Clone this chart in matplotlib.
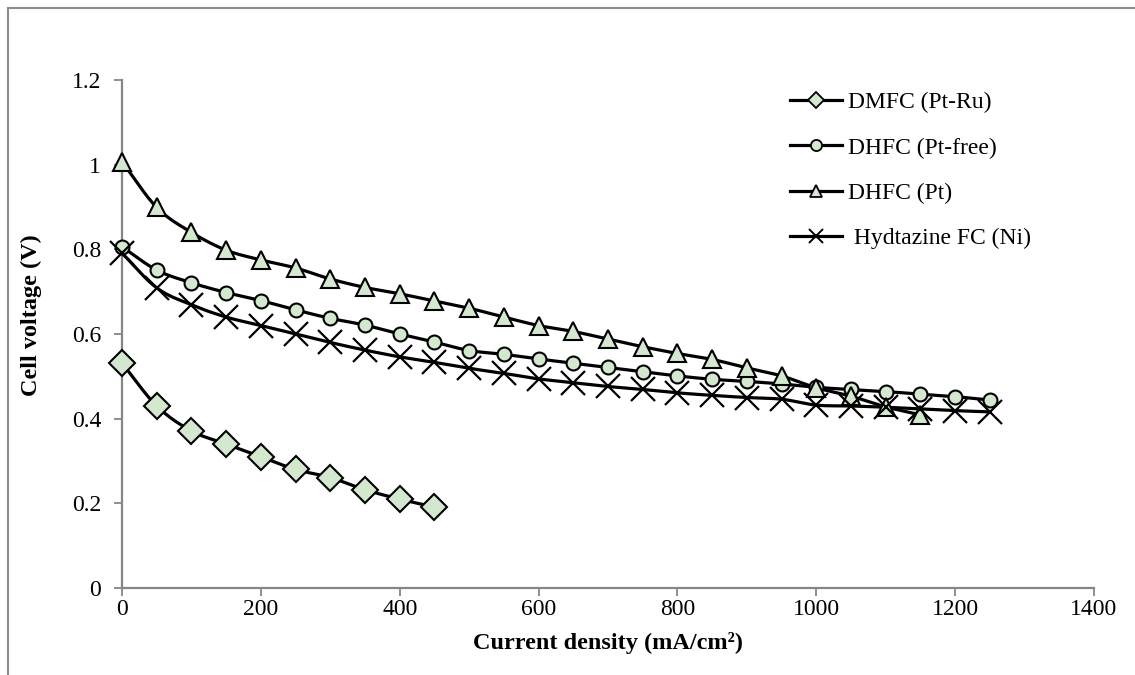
import matplotlib
matplotlib.use("Agg")
import matplotlib.pyplot as plt
from matplotlib.lines import Line2D
import numpy as np

plt.rcParams['font.family'] = ['Liberation Serif', 'DejaVu Serif']

# data
x_dmfc = [0, 50, 100, 150, 200, 250, 300, 350, 400, 450]
v_dmfc = [0.531, 0.430, 0.371, 0.340, 0.310, 0.280, 0.261, 0.232, 0.210, 0.191]

x_free = [0, 50, 100, 150, 200, 250, 300, 350, 400, 450, 500, 550, 600,
          650, 700, 750, 800, 850, 900, 950, 1000, 1050, 1100, 1150, 1200, 1250]
v_free = [0.806, 0.751, 0.721, 0.698, 0.679, 0.657, 0.637, 0.621, 0.600, 0.581,
          0.561, 0.552, 0.541, 0.531, 0.521, 0.511, 0.501, 0.493, 0.488, 0.482,
          0.474, 0.469, 0.464, 0.458, 0.452, 0.444]

x_pt = [0, 50, 100, 150, 200, 250, 300, 350, 400, 450, 500, 550, 600,
        650, 700, 750, 800, 850, 900, 950, 1000, 1050, 1100, 1150]
v_pt = [1.007, 0.899, 0.840, 0.798, 0.775, 0.756, 0.730, 0.710, 0.695, 0.678,
        0.661, 0.640, 0.620, 0.606, 0.588, 0.570, 0.554, 0.540, 0.520, 0.501,
        0.473, 0.453, 0.428, 0.409]

x_ni = [0, 50, 100, 150, 200, 250, 300, 350, 400, 450, 500, 550, 600,
        650, 700, 750, 800, 850, 900, 950, 1000, 1050, 1100, 1150, 1200, 1250]
v_ni = [0.791, 0.709, 0.669, 0.640, 0.620, 0.600, 0.580, 0.562, 0.546, 0.533,
        0.519, 0.507, 0.494, 0.485, 0.476, 0.469, 0.461, 0.455, 0.450, 0.446,
        0.432, 0.430, 0.427, 0.423, 0.419, 0.416]

labels = ['DMFC (Pt-Ru)', 'DHFC (Pt-free)', 'DHFC (Pt)', ' Hydtazine FC (Ni)']
xticks = [0, 200, 400, 600, 800, 1000, 1200, 1400]
yticks = [0, 0.2, 0.4, 0.6, 0.8, 1, 1.2]
yticklabels = ['0', '0.2', '0.4', '0.6', '0.8', '1', '1.2']

fill = '#d4e8d0'
grey = '#868686'


def smooth(x, y, n=16):
    # catmull-rom curve through the points (like excel "smoothed line")
    x = np.asarray(x, float)
    y = np.asarray(y, float)
    px = np.concatenate([[2 * x[0] - x[1]], x, [2 * x[-1] - x[-2]]])
    py = np.concatenate([[2 * y[0] - y[1]], y, [2 * y[-1] - y[-2]]])
    t = np.linspace(0, 1, n, endpoint=False)
    xs, ys = [], []
    for i in range(1, len(px) - 2):
        for p, out in ((px, xs), (py, ys)):
            p0, p1, p2, p3 = p[i - 1], p[i], p[i + 1], p[i + 2]
            out.extend(0.5 * ((2 * p1) + (-p0 + p2) * t
                              + (2 * p0 - 5 * p1 + 4 * p2 - p3) * t ** 2
                              + (-p0 + 3 * p1 - 3 * p2 + p3) * t ** 3))
    xs.append(x[-1])
    ys.append(y[-1])
    return xs, ys


fig = plt.figure(figsize=(11.35, 6.75), dpi=100)
ax = fig.add_axes([122 / 1135, 1 - 588 / 675, (1094 - 122) / 1135, (588 - 80) / 675])

series = [(x_dmfc, v_dmfc, 'D', 13), (x_free, v_free, 'o', 10),
          (x_pt, v_pt, '^', 13.5), (x_ni, v_ni, 'x', 17)]
handles = []
for (xs, ys, m, ms), lab in zip(series, labels):
    sx, sy = smooth(xs, ys)
    ax.plot(sx, sy, color='black', lw=2.3, zorder=2, clip_on=False)
    if m == 'x':
        ax.plot(xs, ys, ls='none', marker='x', ms=ms, mew=1.6, color='black',
                zorder=3, clip_on=False)
        h = Line2D([], [], color='black', lw=2.3, marker='x', ms=10, mew=1.4)
    else:
        ax.plot(xs, ys, ls='none', marker=m, ms=ms, mfc=fill, mec='black', mew=1.5,
                zorder=3, clip_on=False)
        h = Line2D([], [], color='black', lw=2.3, marker=m, ms=m == '^' and 9 or 8,
                   mfc=fill, mec='black', mew=1.3)
    handles.append(h)

ax.set_xlim(0, 1400)
ax.set_ylim(0, 1.2)
ax.set_xticks(xticks)
ax.set_xticklabels([str(v) for v in xticks])
ax.set_yticks(yticks)
ax.set_yticklabels(yticklabels)
ax.tick_params(axis='both', direction='out', length=6, width=1.3, color=grey,
               labelsize=17, pad=2)
ax.tick_params(axis='y', pad=9)
for s in ['top', 'right']:
    ax.spines[s].set_visible(False)
for s in ['left', 'bottom']:
    ax.spines[s].set_color(grey)
    ax.spines[s].set_linewidth(1.6)
    ax.spines[s].set_zorder(1)

fig.text(608 / 1135, 1 - 643 / 675, 'Current density (mA/cm²)', ha='center', va='center',
         fontsize=17.5, fontweight='bold')
fig.text(31 / 1135, 1 - 315 / 675, 'Cell voltage (V)', ha='center', va='center',
         rotation=90, fontsize=17.5, fontweight='bold')

ax.legend(handles, labels, loc='upper left', bbox_to_anchor=(790 / 1135, 1 - 92 / 675),
          bbox_transform=fig.transFigure, frameon=False, fontsize=17,
          handlelength=2.2, handletextpad=0.25, labelspacing=1.0, borderpad=0,
          borderaxespad=0)

# chart area border (excel style)
fig.add_artist(Line2D([8 / 1135, 8 / 1135], [0, 1 - 8 / 675], color='#8c8c8c', lw=1.5))
fig.add_artist(Line2D([8 / 1135, 1], [1 - 8 / 675, 1 - 8 / 675], color='#8c8c8c', lw=1.5))

plt.savefig('out.png', dpi=100)
plt.close()
